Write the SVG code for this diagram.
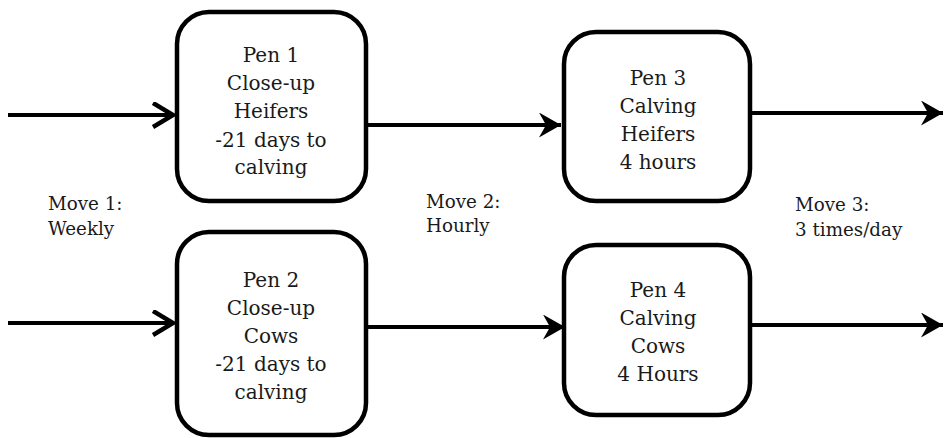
<svg xmlns="http://www.w3.org/2000/svg" width="944" height="438" viewBox="0 0 944 438">
<style>
.box{fill:#fff;stroke:#000;stroke-width:4.5}
.t{font-family:"DejaVu Serif","Liberation Serif",serif;font-size:20px;fill:#1a1a1a;text-anchor:middle}
.l{font-family:"DejaVu Serif","Liberation Serif",serif;font-size:18.3px;fill:#1a1a1a}
.c{stroke:#000;stroke-width:4;fill:none}
</style>
<defs>
<marker id="open" markerUnits="userSpaceOnUse" markerWidth="26" markerHeight="30" refX="21" refY="13" orient="auto" viewBox="0 0 26 30">
<polyline points="1,1 21,13 1,25" fill="none" stroke="#000" stroke-width="4.5"/>
</marker>
<marker id="fill" markerUnits="userSpaceOnUse" markerWidth="24" markerHeight="26" refX="22" refY="12.5" orient="auto" viewBox="0 0 24 26">
<path d="M0,0 L22,12.5 L0,25 L7,12.5 Z" fill="#000"/>
</marker>
</defs>
<g id="connectors">
<line class="c" x1="8" y1="115" x2="173" y2="115" marker-end="url(#open)"/>
<line class="c" x1="8" y1="323" x2="173" y2="323" marker-end="url(#open)"/>
<line class="c" x1="366" y1="125" x2="561" y2="125" marker-end="url(#fill)"/>
<line class="c" x1="366" y1="327" x2="565" y2="327" marker-end="url(#fill)"/>
<line class="c" x1="750" y1="113" x2="943" y2="113" marker-end="url(#fill)"/>
<line class="c" x1="750" y1="325" x2="943" y2="325" marker-end="url(#fill)"/>
</g>
<g id="pen1">
<rect class="box" x="177" y="12" width="189" height="189" rx="32"/>
<text class="t" x="271" y="62">Pen 1</text>
<text class="t" x="271" y="90">Close-up</text>
<text class="t" x="271" y="118">Heifers</text>
<text class="t" x="271" y="147">-21 days to</text>
<text class="t" x="271" y="174">calving</text>
</g>
<g id="pen2">
<rect class="box" x="177" y="232" width="189" height="203" rx="32"/>
<text class="t" x="271" y="287">Pen 2</text>
<text class="t" x="271" y="315">Close-up</text>
<text class="t" x="271" y="343">Cows</text>
<text class="t" x="271" y="371">-21 days to</text>
<text class="t" x="271" y="399">calving</text>
</g>
<g id="pen3">
<rect class="box" x="564" y="32" width="186" height="169" rx="32"/>
<text class="t" x="658" y="85">Pen 3</text>
<text class="t" x="658" y="113">Calving</text>
<text class="t" x="658" y="141">Heifers</text>
<text class="t" x="658" y="169">4 hours</text>
</g>
<g id="pen4">
<rect class="box" x="564" y="245" width="186" height="170" rx="32"/>
<text class="t" x="658" y="297">Pen 4</text>
<text class="t" x="658" y="325">Calving</text>
<text class="t" x="658" y="353">Cows</text>
<text class="t" x="658" y="381">4 Hours</text>
</g>
<g id="labels">
<text class="l" x="48" y="210">Move 1:</text>
<text class="l" x="48" y="235">Weekly</text>
<text class="l" x="426" y="208">Move 2:</text>
<text class="l" x="426" y="232">Hourly</text>
<text class="l" x="795" y="211">Move 3:</text>
<text class="l" x="795" y="236">3 times/day</text>
</g>
</svg>
